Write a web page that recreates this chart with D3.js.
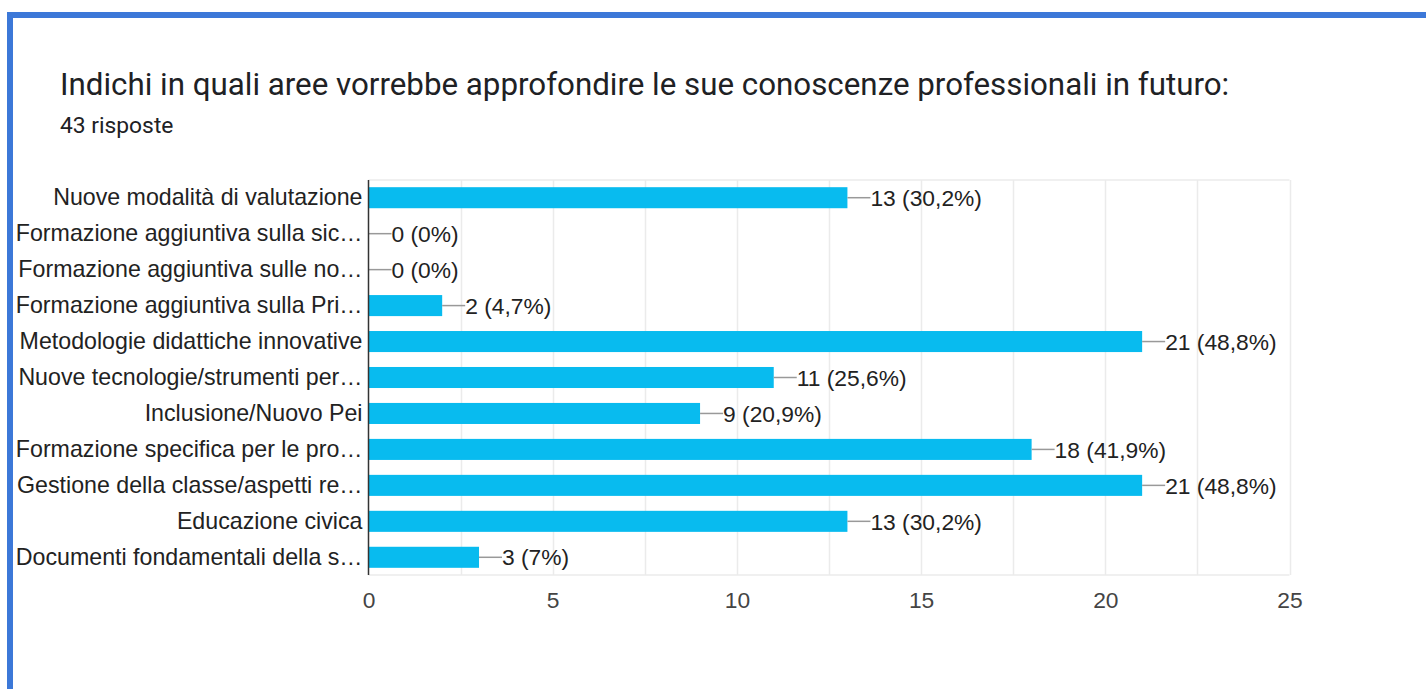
<!DOCTYPE html>
<html>
<head>
<meta charset="utf-8">
<script src="https://cdn.jsdelivr.net/npm/d3@7"></script>
<style>
  html, body { margin: 0; padding: 0; background: #fff; }
  svg { display: block; }
</style>
</head>
<body>
<svg id="chart" width="1426" height="689"></svg>
<script>
// Survey answers: areas where teachers want further professional training
const categories = [
  "Nuove modalità di valutazione",
  "Formazione aggiuntiva sulla sic…",
  "Formazione aggiuntiva sulle no…",
  "Formazione aggiuntiva sulla Pri…",
  "Metodologie didattiche innovative",
  "Nuove tecnologie/strumenti per…",
  "Inclusione/Nuovo Pei",
  "Formazione specifica per le pro…",
  "Gestione della classe/aspetti re…",
  "Educazione civica",
  "Documenti fondamentali della s…"
];
const counts = [13, 0, 0, 2, 21, 11, 9, 18, 21, 13, 3];
const percentLabels = ["30,2%", "0%", "0%", "4,7%", "48,8%", "25,6%", "20,9%", "41,9%", "48,8%", "30,2%", "7%"];
const tickValues = [0, 5, 10, 15, 20, 25];
const gridValues = [2.5, 5, 7.5, 10, 12.5, 15, 17.5, 20, 22.5, 25];

const titleText = "Indichi in quali aree vorrebbe approfondire le sue conoscenze professionali in futuro:";
const subtitleText = "43 risposte";

const labelFont = "Arial, 'Liberation Sans', sans-serif";
const labelSize = 23.2;
const valueSize = 22.8;

const svg = d3.select("#chart");

// Card frame: blue top and left edges
svg.append("rect").attr("x", 7).attr("y", 12).attr("width", 1426 - 7).attr("height", 6).attr("fill", "#3c78d8");
svg.append("rect").attr("x", 7).attr("y", 12).attr("width", 6).attr("height", 689 - 12).attr("fill", "#3c78d8");

svg.append("text")
  .attr("x", 60).attr("y", 95)
  .attr("font-family", "Roboto, 'Noto Sans', sans-serif")
  .attr("font-size", 31.3)
  .attr("fill", "#202124")
  .text(titleText);

svg.append("text")
  .attr("x", 60).attr("y", 133)
  .attr("font-family", "Roboto, 'Noto Sans', sans-serif")
  .attr("font-size", 22.8)
  .attr("fill", "#202124")
  .text(subtitleText);

// Plot area
const plotLeft = 368.5, plotRight = 1289.5, plotTop = 180, plotBottom = 575;

const x = d3.scaleLinear().domain([0, 25]).range([plotLeft, plotRight]);
const y = d3.scaleBand().domain(categories).range([plotTop, plotBottom]).paddingInner(0.415).paddingOuter(0.2);

const g = svg.append("g");

// Vertical gridlines
g.selectAll("line.grid")
  .data(gridValues)
  .join("line")
  .attr("class", "grid")
  .attr("x1", d => Math.round(x(d)) + 0.5).attr("x2", d => Math.round(x(d)) + 0.5)
  .attr("y1", plotTop).attr("y2", plotBottom)
  .attr("stroke", "#ebebeb").attr("stroke-width", 1.5);

// Top and bottom frame lines
g.append("line").attr("x1", plotLeft).attr("x2", plotRight).attr("y1", plotTop).attr("y2", plotTop)
  .attr("stroke", "#ebebeb").attr("stroke-width", 1.5);
g.append("line").attr("x1", plotLeft).attr("x2", plotRight).attr("y1", plotBottom).attr("y2", plotBottom)
  .attr("stroke", "#ebebeb").attr("stroke-width", 1.5);

// Bars
g.selectAll("rect.bar")
  .data(counts)
  .join("rect")
  .attr("class", "bar")
  .attr("x", x(0))
  .attr("y", (d, i) => y(categories[i]))
  .attr("width", d => x(d) - x(0))
  .attr("height", y.bandwidth())
  .attr("fill", "#08bbef");

// Leader lines and value labels
const yc = i => y(categories[i]) + y.bandwidth() / 2;
g.selectAll("line.leader")
  .data(counts)
  .join("line")
  .attr("class", "leader")
  .attr("x1", d => x(d)).attr("x2", d => x(d) + 23)
  .attr("y1", (d, i) => yc(i)).attr("y2", (d, i) => yc(i))
  .attr("stroke", "#999").attr("stroke-width", 1.5);

g.selectAll("text.value")
  .data(counts)
  .join("text")
  .attr("class", "value")
  .attr("x", d => x(d) + 23)
  .attr("y", (d, i) => yc(i))
  .attr("dy", "0.36em")
  .attr("font-family", labelFont)
  .attr("font-size", valueSize)
  .attr("fill", "#222")
  .text((d, i) => `${d} (${percentLabels[i]})`);

// Category axis
const yAxis = d3.axisLeft(y).tickSize(0).tickPadding(6);
const ya = svg.append("g").attr("transform", `translate(${plotLeft},0)`).call(yAxis);
ya.select(".domain").attr("stroke", "#333").attr("stroke-width", 1.5)
  .attr("d", `M0,${plotTop}V${plotBottom}`);
ya.selectAll("text")
  .attr("font-family", labelFont)
  .attr("font-size", labelSize)
  .attr("fill", "#222");

// Value axis
const xAxis = d3.axisBottom(x).tickValues(tickValues).tickSize(0).tickPadding(17);
const xa = svg.append("g").attr("transform", `translate(0,${plotBottom})`).call(xAxis);
xa.select(".domain").remove();
xa.selectAll("text")
  .attr("font-family", labelFont)
  .attr("font-size", valueSize)
  .attr("fill", "#444");
</script>
</body>
</html>
